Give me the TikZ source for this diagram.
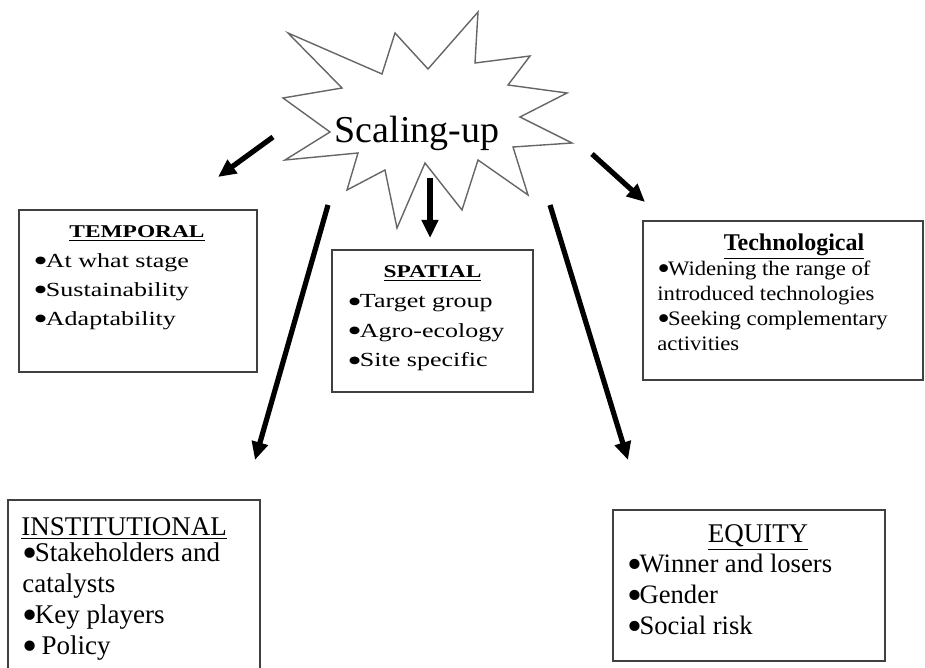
\documentclass[tikz,border=0pt]{standalone}
\usepackage{graphicx}
\usepackage{fontspec}
\setmainfont{Liberation Serif}
\newfontfamily\wideserif[FakeStretch=1.3]{Liberation Serif}
\newfontfamily\techserif[FakeStretch=1.1]{Liberation Serif}
\usetikzlibrary{arrows.meta}
\newcommand\blt{\smash{\raisebox{-0.24em}{\scalebox{1.6}{\textbullet}}}\kern-0.1em}

\begin{document}
\begin{tikzpicture}[x=0.5pt, y=-0.5pt,
    panel/.style={draw=black!75, line width=0.8pt},
    push/.style={line width=2.6pt, -{Triangle[length=9pt, width=8pt]}},
    line/.style={anchor=base west, inner sep=0pt},
    head/.style={anchor=base, inner sep=0pt}]
    \useasboundingbox (0,0) rectangle (925,668);

    % the burst
    \draw[black!60, line width=0.7pt, fill=white] (288,33) -- (382,74) -- (395,33) -- (428,69) -- (478,12) -- (475,63)
        -- (530,56) -- (508,85) -- (567,93) -- (520,117) -- (572,143) -- (513,147) -- (528,195) -- (478,160)
        -- (462,210) -- (425,163) -- (397,228) -- (385,170) -- (347,190) -- (358,153) -- (285,160) -- (330,132)
        -- (283,98) -- (342,88) -- cycle;
    \node[head, font=\fontsize{19}{22}\selectfont] (scaling) at (417,143) {Scaling-up};

    % boxes
    \node[panel, minimum width=119pt, minimum height=81pt] (temporal) at (138,291) {};
    \node[panel, minimum width=100.5pt, minimum height=71pt] (spatial) at (432.5,321) {};
    \node[panel, minimum width=140pt, minimum height=79.5pt] (techno) at (783,300.5) {};
    \node[panel, minimum width=126pt, minimum height=95pt] (institutional) at (134,595) {};
    \node[panel, minimum width=136pt, minimum height=75.5pt] (equity) at (749,585.5) {};

    % texts
    \node[head, font=\wideserif\fontsize{9}{11}\selectfont\bfseries] (temporal-head) at (137,237) {\underline{TEMPORAL}};
    \foreach \txt [count=\i] in {\blt At what stage, \blt Sustainability, \blt Adaptability}
        \node[line, font=\wideserif\fontsize{10}{12}\selectfont] (temporal-\i) at (33,238+29*\i) {\txt};

    \node[head, font=\wideserif\fontsize{9}{11}\selectfont\bfseries] (spatial-head) at (432.5,277) {\underline{SPATIAL}};
    \foreach \txt [count=\i] in {\blt Target group, \blt Agro-ecology, \blt Site specific}
        \node[line, font=\wideserif\fontsize{10}{12}\selectfont] (spatial-\i) at (347,278+29.5*\i) {\txt};

    \node[head, font=\fontsize{12}{14}\selectfont\bfseries] (techno-head) at (794,250) {\underline{Technological}};
    \foreach \txt [count=\i] in {\blt Widening the range of, introduced technologies,
        \blt Seeking complementary, activities}
        \node[line, font=\techserif\fontsize{10.3}{12}\selectfont] (techno-\i) at (657,250+25*\i) {\txt};

    \node[line, font=\fontsize{13.5}{16}\selectfont] (institutional-head) at (21,535) {\underline{INSTITUTIONAL}};
    \foreach \txt [count=\i] in {\blt Stakeholders and, catalysts, \blt Key players, \blt\ Policy}
        \node[line, font=\fontsize{13.5}{16}\selectfont] (institutional-\i) at (22,530+31*\i) {\txt};

    \node[head, font=\fontsize{13.5}{16}\selectfont] (equity-head) at (758,542) {\underline{EQUITY}};
    \foreach \txt [count=\i] in {\blt Winner and losers, \blt Gender, \blt Social risk}
        \node[line, font=\fontsize{13.3}{16}\selectfont] (equity-\i) at (627,541+31*\i) {\txt};

    % arrows
    \coordinate (from-temporal) at (273,137);  \coordinate (to-temporal) at (218,177);
    \coordinate (from-spatial) at (430,178);   \coordinate (to-spatial) at (430,238);
    \coordinate (from-techno) at (592,154);    \coordinate (to-techno) at (645,202);
    \coordinate (from-institutional) at (328,205); \coordinate (to-institutional) at (255,460);
    \coordinate (from-equity) at (550,205);    \coordinate (to-equity) at (628,460);
    \draw[push] (from-temporal) -- (to-temporal);
    \draw[push] (from-spatial) -- (to-spatial);
    \draw[push] (from-techno) -- (to-techno);
    \draw[push] (from-institutional) -- (to-institutional);
    \draw[push] (from-equity) -- (to-equity);
\end{tikzpicture}
\end{document}
